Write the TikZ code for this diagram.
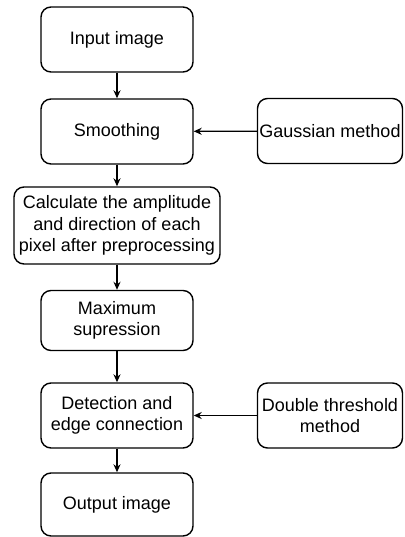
\documentclass[tikz,border=0pt]{standalone}
\usepackage{fontspec}
\setmainfont{Liberation Sans}
\usetikzlibrary{arrows.meta}
\begin{document}
\begin{tikzpicture}[x=1pt,y=-1pt,
  stepbox/.style={draw, line width=1.4pt, rounded corners=10pt, align=center,
    inner sep=0pt, font=\fontsize{18}{21.5}\selectfont},
  flow/.style={line width=1.3pt, -{Stealth[length=8pt,width=7pt]}}]
  \useasboundingbox (0,0) rectangle (404,537);
  % main column
  \node[stepbox, minimum width=152pt, minimum height=65pt] (in) at (117,39.5) {Input image};
  \node[stepbox, minimum width=152pt, minimum height=65pt] (smooth) at (117,131.5) {Smoothing};
  \node[stepbox, minimum width=206pt, minimum height=77pt] (calc) at (117,225.5)
    {Calculate the amplitude\\and direction of each\\pixel after preprocessing};
  \node[stepbox, minimum width=152pt, minimum height=60pt] (max) at (117,320.5) {Maximum\\supression};
  \node[stepbox, minimum width=152pt, minimum height=65pt] (det) at (117,415.5) {Detection and\\edge connection};
  \node[stepbox, minimum width=152pt, minimum height=63pt] (out) at (117,504.5) {Output image};
  % side inputs
  \node[stepbox, minimum width=145pt, minimum height=65pt] (gauss) at (330,131) {Gaussian method};
  \node[stepbox, minimum width=145pt, minimum height=65pt] (dbl) at (330,415.5) {Double threshold\\method};
  % connectors
  \draw[flow] (in) -- (smooth);
  \draw[flow] (smooth) -- (calc);
  \draw[flow] (calc) -- (max);
  \draw[flow] (max) -- (det);
  \draw[flow] (det) -- (out);
  \draw[flow] (gauss) -- (smooth);
  \draw[flow] (dbl) -- (det);
\end{tikzpicture}
\end{document}
